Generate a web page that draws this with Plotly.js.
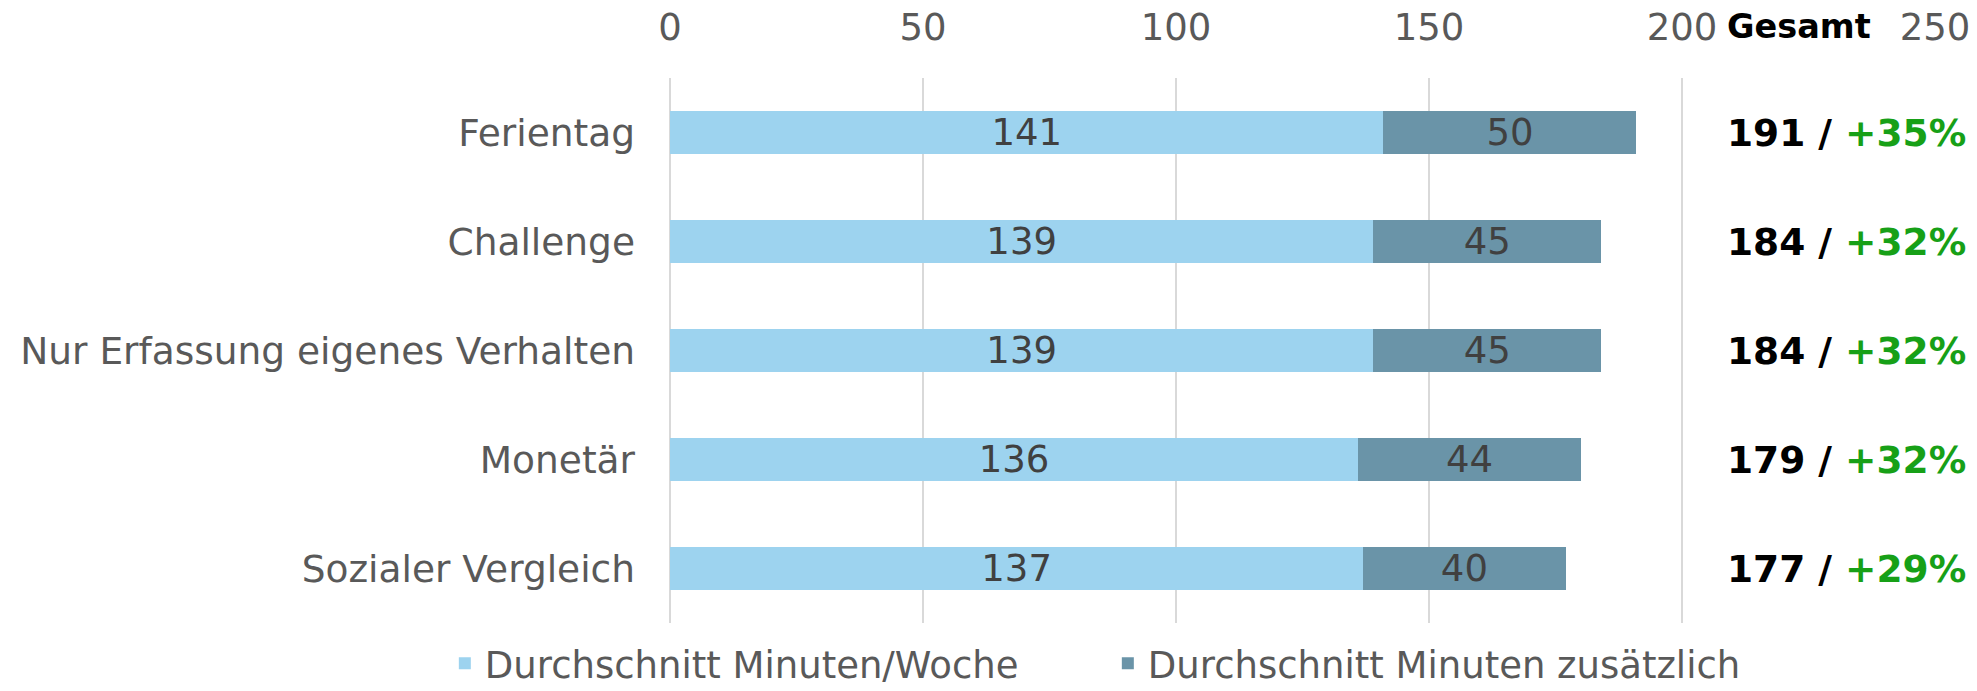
<!DOCTYPE html>
<html>
<head>
<meta charset="utf-8">
<script src="https://cdn.plot.ly/plotly-3.0.1.min.js"></script>
<style>
  html, body { margin: 0; padding: 0; background: #ffffff; }
  #chart { width: 1977px; height: 691px; }
</style>
</head>
<body>
<div id="chart"></div>
<script>
const categories = ["Ferientag", "Challenge", "Nur Erfassung eigenes Verhalten", "Monetär", "Sozialer Vergleich"];
const minutenWoche = [141, 139, 139, 136, 137];
const minutenZusaetzlich = [50, 45, 45, 44, 40];
const gesamt = [191, 184, 184, 179, 177];
const zuwachs = ["+35%", "+32%", "+32%", "+32%", "+29%"];
const seriesNames = ["Durchschnitt Minuten/Woche", "Durchschnitt Minuten zusätzlich"];
const xTicks = [0, 50, 100, 150, 200, 250];

const FONT = "DejaVu Sans, Verdana, sans-serif";
const GREY = "#595959";

const traces = [
  {
    type: "bar", orientation: "h", name: seriesNames[0],
    y: categories, x: minutenWoche,
    marker: { color: "#9dd3ef" },
    text: minutenWoche.map(String), textposition: "inside", insidetextanchor: "middle",
    constraintext: "none",
    textfont: { family: FONT, size: 37, color: "#404040" },
    hoverinfo: "x+y"
  },
  {
    type: "bar", orientation: "h", name: seriesNames[1],
    y: categories, x: minutenZusaetzlich,
    marker: { color: "#6a94a8" },
    text: minutenZusaetzlich.map(String), textposition: "inside", insidetextanchor: "middle",
    constraintext: "none",
    textfont: { family: FONT, size: 37, color: "#404040" },
    hoverinfo: "x+y"
  }
];

const annotations = categories.map((c, i) => ({
  xref: "x", yref: "y", x: 208.5, y: c, xanchor: "left", yanchor: "middle",
  showarrow: false,
  text: "<b>" + gesamt[i] + " / </b><b><span style=\"color:#17a017\">" + zuwachs[i] + "</span></b>",
  font: { family: FONT, size: 37.5, color: "#000000" }
}));
annotations.push({
  xref: "x", yref: "paper", x: 208.5, y: 1, yshift: 52, xanchor: "left", yanchor: "middle",
  showarrow: false, text: "<b>Gesamt</b>",
  font: { family: FONT, size: 33.5, color: "#000000" }
});

const layout = {
  width: 1977, height: 691,
  margin: { l: 670, r: 42, t: 78, b: 68, autoexpand: false },
  paper_bgcolor: "#ffffff", plot_bgcolor: "#ffffff",
  barmode: "stack", bargap: 0.6,
  font: { family: FONT, color: GREY },
  xaxis: {
    side: "top", range: [0, 250], tickvals: xTicks, ticks: "",
    ticklabelstandoff: 30,
    tickfont: { family: FONT, size: 37, color: GREY },
    showgrid: true, gridcolor: "#d9d9d9", gridwidth: 2,
    zeroline: true, zerolinecolor: "#d9d9d9", zerolinewidth: 2,
    showline: false, fixedrange: true
  },
  yaxis: {
    autorange: "reversed", ticks: "", ticklabelstandoff: 34,
    tickfont: { family: FONT, size: 37.5, color: GREY },
    showgrid: false, zeroline: false, showline: false, fixedrange: true
  },
  showlegend: true,
  legend: {
    orientation: "h", x: -0.178, xanchor: "left", y: -0.018, yanchor: "top",
    entrywidth: 618, entrywidthmode: "pixels",
    font: { family: FONT, size: 37, color: GREY },
    itemclick: false, itemdoubleclick: false, traceorder: "normal"
  },
  annotations: annotations
};

Plotly.newPlot("chart", traces, layout, { displayModeBar: false, staticPlot: true });
</script>
</body>
</html>
